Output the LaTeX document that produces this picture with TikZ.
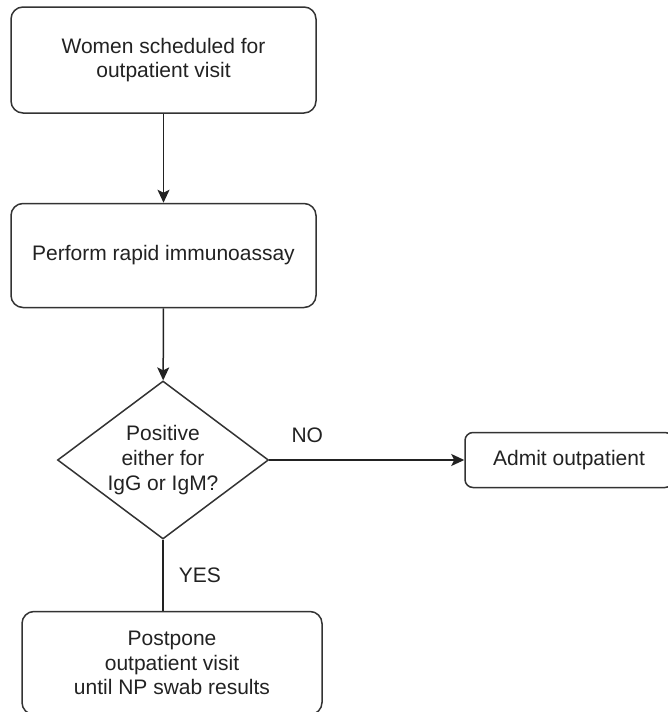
\documentclass[tikz,border=0pt]{standalone}
\usepackage{fontspec}
\setmainfont{Liberation Sans}
\usepackage{tikz}
\usetikzlibrary{positioning,arrows.meta,shapes.geometric}
\definecolor{ink}  {HTML}{222222}
\definecolor{edge} {HTML}{333333}
\tikzset{
  box/.style  ={draw=edge, line width=1.5pt, fill=white,
                rounded corners=12pt, align=center, inner sep=4pt,
                font=\fontsize{21}{24.5}\selectfont, text=ink},
  boxs/.style ={box, rounded corners=8pt},
  dec/.style  ={draw=edge, line width=1.5pt, fill=white, diamond,
                aspect=1.335, inner sep=0pt, align=center,
                minimum width=211pt, minimum height=158pt,
                font=\fontsize{21}{25}\selectfont, text=ink},
  ar/.style   ={-{Stealth[length=13pt, width=12pt, inset=3pt]},
                draw=ink, line width=1.5pt},
  ln/.style   ={draw=ink, line width=1.5pt},
  tag/.style  ={font=\fontsize{21}{24.5}\selectfont, text=ink, inner sep=2pt}
}
\begin{document}
\begin{tikzpicture}
\useasboundingbox (0,0) rectangle (667pt,-712pt);
\node[box, minimum width=305pt, minimum height=106pt] (women)
  at (163.5pt,-60pt) {Women scheduled for\\outpatient visit};
\node[box, below=89pt of women, minimum width=305pt, minimum height=104pt]
  (assay) {Perform rapid immunoassay};
\node[dec, below=72pt of assay, xshift=-0.5pt] (pos)
  {Positive\\either for\\IgG or IgM?};
\node[boxs, right=195pt of pos, minimum width=208pt, minimum height=55pt]
  (admit) {Admit outpatient};
\node[box, below=71pt of pos, xshift=9pt, minimum width=300pt,
  minimum height=103pt] (postpone)
  {Postpone\\outpatient visit\\until NP swab results};

\draw[ar] (women) -- (assay);
\draw[ar] (assay) -- (pos);
\draw[ar] (pos) -- node[tag, pos=0.195, above=15pt] (no) {NO} (admit);
\draw[ln] (pos.south) -- node[tag, right=13pt] (yes) {YES}
  (pos.south |- postpone.north);
\end{tikzpicture}
\end{document}
